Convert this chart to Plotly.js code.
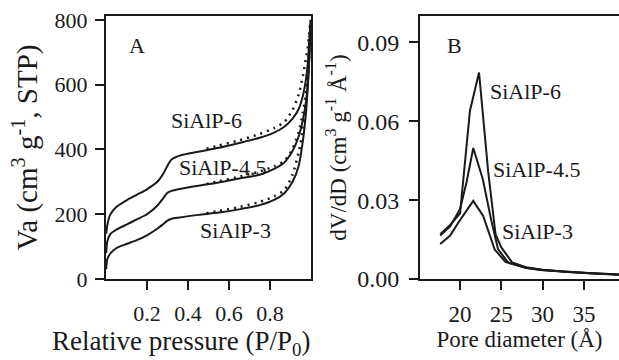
<!DOCTYPE html>
<html>
<head>
<meta charset="utf-8">
<script src="https://cdn.plot.ly/plotly-3.0.1.min.js"></script>
<style>html,body{margin:0;padding:0;background:#fff;}#chart{width:619px;height:360px;}</style>
</head>
<body>
<div id="chart"></div>
<script>
// ---------- Panel A: N2 isotherms ----------
const adsX = [0.001, 0.006, 0.02, 0.05, 0.1, 0.15, 0.2, 0.25, 0.28, 0.3, 0.32, 0.36, 0.45, 0.55, 0.65, 0.75, 0.82, 0.87, 0.91, 0.94, 0.96, 0.975, 0.985, 0.992, 0.998];
const ads6  = [140, 165, 198, 222, 243, 260, 277, 300, 326, 350, 369, 381, 393, 405, 420, 436, 452, 470, 495, 525, 565, 615, 670, 740, 800];
const ads45 = [80, 115, 138, 152, 168, 184, 200, 226, 250, 266, 272, 278, 288, 298, 310, 322, 340, 360, 395, 440, 490, 545, 610, 690, 790];
const ads3  = [30, 60, 78, 95, 108, 120, 135, 155, 170, 180, 186, 190, 198, 205, 215, 228, 244, 265, 300, 350, 425, 510, 600, 690, 780];

const desX = [0.49, 0.55, 0.65, 0.75, 0.82, 0.87, 0.91, 0.94, 0.96, 0.975, 0.985, 0.992, 0.998];
const des6  = [402, 412, 428, 448, 466, 485, 522, 570, 625, 680, 720, 765, 800];
const des45 = [293, 302, 316, 332, 348, 365, 402, 455, 515, 570, 645, 720, 790];
const des3  = [203, 210, 222, 238, 255, 275, 322, 392, 455, 535, 620, 700, 780];

// ---------- Panel B: pore size distributions ----------
const pd6x  = [17.6, 18.8, 20.0, 21.2, 22.3, 23.4, 24.3, 25.0, 26.3, 28, 30, 33, 36, 39.5];
const pd6y  = [0.017, 0.0205, 0.025, 0.064, 0.0785, 0.041, 0.017, 0.012, 0.0063, 0.0045, 0.0035, 0.0027, 0.0022, 0.0017];
const pd45x = [17.6, 18.8, 20.0, 20.8, 21.6, 22.75, 23.8, 24.6, 25.8, 28, 30, 33, 36, 39.5];
const pd45y = [0.0165, 0.020, 0.0266, 0.037, 0.0498, 0.038, 0.022, 0.0114, 0.0063, 0.0043, 0.0034, 0.0027, 0.0022, 0.0017];
const pd3x  = [17.6, 18.8, 19.8, 21.6, 22.8, 24.2, 25.5, 28, 30, 33, 36, 39.5];
const pd3y  = [0.0133, 0.0165, 0.0215, 0.0297, 0.024, 0.0112, 0.0065, 0.0042, 0.0033, 0.0026, 0.0021, 0.0016];

const seriesNames = ['SiAlP-6', 'SiAlP-4.5', 'SiAlP-3'];
const panelLabels = ['A', 'B'];
const titles = {
  ax: 'Relative pressure (P/P<sub>0</sub>)',
  ay: 'Va (cm<sup>3</sup> g<sup>-1</sup>, STP)',
  bx: 'Pore diameter (Å)',
  by: 'dV/dD (cm<sup>3</sup> g<sup>-1</sup> Å<sup>-1</sup>)'
};

const INK = '#1a1a1a';
const FONT = 'Liberation Serif';

function solid(x, y, name, xa, ya, smooth) {
  return {x: x, y: y, name: name, xaxis: xa, yaxis: ya, mode: 'lines', hoverinfo: 'skip',
          line: {color: INK, width: 2, shape: smooth ? 'spline' : 'linear', smoothing: 0.7}};
}
function dotted(x, y, name) {
  return {x: x, y: y, name: name, xaxis: 'x', yaxis: 'y', mode: 'lines', hoverinfo: 'skip',
          line: {color: INK, width: 2.5, dash: '2px,5px', shape: 'spline', smoothing: 0.7}};
}

const data = [
  solid(adsX, ads6, seriesNames[0], 'x', 'y', true),
  solid(adsX, ads45, seriesNames[1], 'x', 'y', true),
  solid(adsX, ads3, seriesNames[2], 'x', 'y', true),
  dotted(desX, des6, seriesNames[0]),
  dotted(desX, des45, seriesNames[1]),
  dotted(desX, des3, seriesNames[2]),
  solid(pd6x, pd6y, seriesNames[0], 'x2', 'y2', false),
  solid(pd45x, pd45y, seriesNames[1], 'x2', 'y2', false),
  solid(pd3x, pd3y, seriesNames[2], 'x2', 'y2', false)
];

const axisCommon = {
  showgrid: false, zeroline: false, showline: true, linewidth: 2, linecolor: INK,
  ticks: 'outside', ticklen: 9, tickwidth: 2, tickcolor: INK
};

const f = (s) => ({family: FONT, size: s, color: INK});

const layout = {
  width: 619, height: 360,
  margin: {l: 0, r: 0, t: 16, b: 81},
  paper_bgcolor: '#fff', plot_bgcolor: '#fff',
  showlegend: false,
  font: f(22),
  xaxis: Object.assign({}, axisCommon, {
    domain: [106/619, 311/619], range: [0, 1], mirror: true,
    tickvals: [0.2, 0.4, 0.6, 0.8], tickformat: '.1f', ticklabelstandoff: 5,
    tickfont: f(22)
  }),
  yaxis: Object.assign({}, axisCommon, {
    anchor: 'x', range: [0, 812], mirror: true,
    tickvals: [0, 200, 400, 600, 800], ticklabelstandoff: 3,
    tickfont: f(22),
    title: {text: titles.ay, font: f(29), standoff: 8}
  }),
  xaxis2: Object.assign({}, axisCommon, {
    anchor: 'y2', domain: [420/619, 1], range: [15.15, 39.25], mirror: true,
    tickvals: [20, 25, 30, 35], ticklabelstandoff: 4,
    tickfont: f(23),
    title: {text: titles.bx, font: f(23), standoff: 2}
  }),
  yaxis2: Object.assign({}, axisCommon, {
    anchor: 'x2', range: [0, 0.1], mirror: false,
    tickvals: [0, 0.03, 0.06, 0.09], tickformat: '.2f', ticklabelstandoff: 5,
    tickfont: f(24),
    title: {text: titles.by, font: f(23), standoff: 4}
  }),
  annotations: [
    {xref: 'paper', yref: 'paper', x: 181/619, y: (279 - 343) / 263, xanchor: 'center', yanchor: 'middle',
     text: titles.ax, showarrow: false, font: f(27)},
    {xref: 'x', yref: 'y', x: 0.151, y: 722, text: panelLabels[0], showarrow: false, font: f(22)},
    {xref: 'x2', yref: 'y2', x: 19.27, y: 0.0889, text: panelLabels[1], showarrow: false, font: f(22)},
    {xref: 'x', yref: 'y', x: 0.488, y: 488, text: seriesNames[0], showarrow: false, font: f(22)},
    {xref: 'x', yref: 'y', x: 0.566, y: 343, text: seriesNames[1], showarrow: false, font: f(22)},
    {xref: 'x', yref: 'y', x: 0.634, y: 151, text: seriesNames[2], showarrow: false, font: f(22)},
    {xref: 'x2', yref: 'y2', x: 27.87, y: 0.0714, text: seriesNames[0], showarrow: false, font: f(22)},
    {xref: 'x2', yref: 'y2', x: 29.3, y: 0.0418, text: seriesNames[1], showarrow: false, font: f(22)},
    {xref: 'x2', yref: 'y2', x: 29.4, y: 0.0179, text: seriesNames[2], showarrow: false, font: f(22)}
  ]
};

Plotly.newPlot('chart', data, layout, {staticPlot: true, displayModeBar: false});
</script>
</body>
</html>
